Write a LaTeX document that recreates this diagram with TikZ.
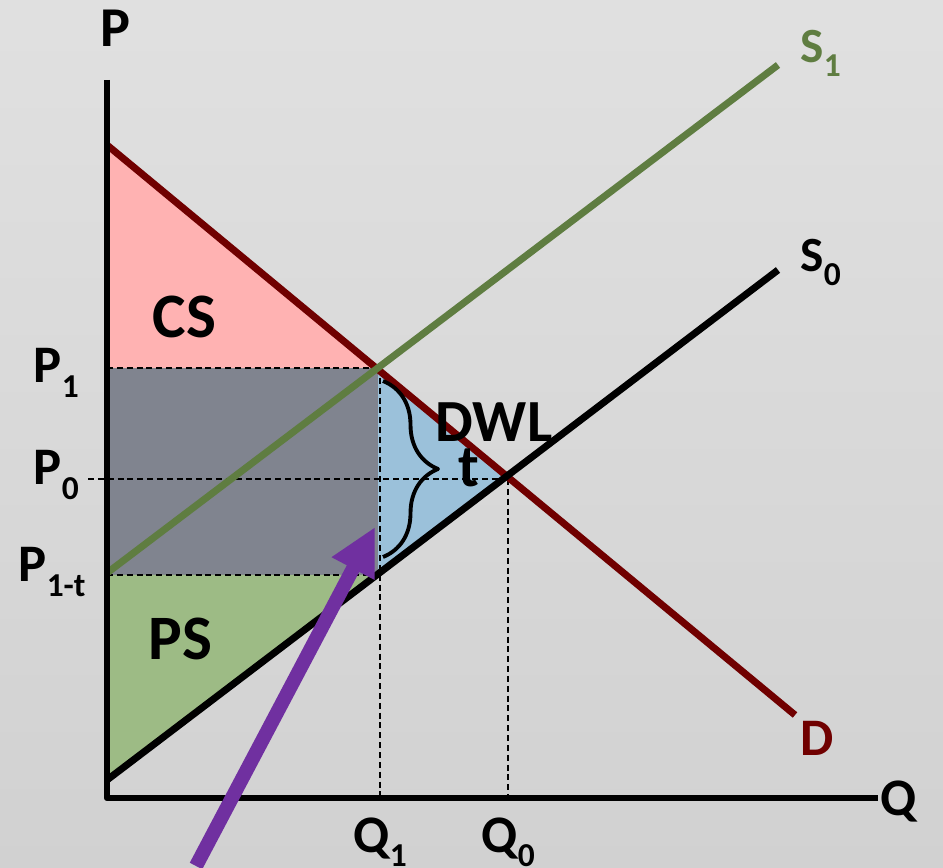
\documentclass[tikz,border=0pt]{standalone}
\usepackage{fontspec}
\setmainfont{Carlito}
\usetikzlibrary{arrows.meta,decorations.pathreplacing}
\definecolor{demandred}{RGB}{112,0,0}
\definecolor{supplygreen}{RGB}{95,125,65}
\definecolor{csfill}{RGB}{255,178,178}
\definecolor{taxfill}{RGB}{128,132,143}
\definecolor{psfill}{RGB}{157,187,133}
\definecolor{dwlfill}{RGB}{155,193,218}
\definecolor{arrowpurple}{RGB}{112,48,160}
\newcommand\lowsub[1]{\raisebox{-0.28em}{\fontsize{9.5}{10}\selectfont #1}}
\begin{document}
\begin{tikzpicture}[x=0.01cm,y=-0.01cm,line join=round,
    every node/.style={font=\bfseries\fontsize{15}{18}\selectfont,inner sep=0pt,anchor=base west},
    guide/.style={dash pattern=on 1.7pt off 1.1pt,line width=0.45pt},
    curve/.style={line width=2pt},
    bigtext/.style={font=\bfseries\fontsize{18}{21}\selectfont}]
  \useasboundingbox (0,0) rectangle (943,868);
  \shade[top color=black!12,middle color=black!8,bottom color=black!18] (0,0) rectangle (943,868);
  % points of the market
  \coordinate (O) at (107,798);
  \coordinate (Ptop) at (107,80);
  \coordinate (Qend) at (878,798);
  \coordinate (Dstart) at (107,145);
  \coordinate (Dend) at (795,715);
  \coordinate (Szstart) at (107,780);
  \coordinate (Szend) at (778,270);
  \coordinate (Sostart) at (107,573);
  \coordinate (Soend) at (778,65);
  \coordinate (Eone) at (378,368);
  \coordinate (Ezero) at (508,479);
  \coordinate (Pone) at (107,368);
  \coordinate (Pzero) at (88,479);
  \coordinate (Pt) at (107,575);
  \coordinate (Ft) at (378,575);
  % surplus areas
  \fill[csfill] (Dstart) -- (Pone) -- (Eone) -- cycle;
  \fill[taxfill] (Pone) rectangle (Ft);
  \fill[psfill] (Pt) -- (Ft) -- (Szstart) -- cycle;
  \fill[dwlfill] (Eone) -- (Ezero) -- (Ft) -- cycle;
  % guides
  \draw[guide] (Pone) -- (Eone);
  \draw[guide] (Pzero) -- (Ezero);
  \draw[guide] (Pt) -- (Ft);
  \draw[guide] (380,368) -- (380,798);
  \draw[guide] (Ezero) -- (508,798);
  % curves
  \draw[curve,demandred] (Dstart) -- (Dend);
  \draw[curve,black] (Szstart) -- (Szend);
  \draw[curve,supplygreen] (Sostart) -- (Soend);
  \draw[line width=1.8pt] (Ptop) -- (O) -- (Qend);
  % tax brace
  \draw[line width=1.1pt,decorate,decoration={brace,amplitude=0.55cm}] (383,381) -- (383,557);
  % pointer
  \coordinate (tail) at (196,866);
  \coordinate (tip) at (375,527);
  \draw[arrowpurple,line width=4pt,-{Triangle[length=0.47cm,width=0.45cm]}] (tail) -- (tip);
  % labels
  \node[font=\bfseries\fontsize{16}{19}\selectfont] (plabel) at (100,47) {P};
  \node (qlabel) at (880,815) {Q};
  \node[supplygreen,font=\bfseries\fontsize{14}{17}\selectfont] (sonelabel) at (800,63) {S\lowsub{1}};
  \node[font=\bfseries\fontsize{14}{17}\selectfont] (szerolabel) at (800,272) {S\lowsub{0}};
  \node[demandred] (dlabel) at (800,755) {D};
  \node[bigtext] (cslabel) at (152,338) {CS};
  \node[bigtext] (pslabel) at (148,660) {PS};
  \node[font=\bfseries\fontsize{17}{20}\selectfont] (dwllabel) at (435,442) {DWL};
  \node[font=\bfseries\fontsize{17}{20}\selectfont] (tlabel) at (458,487) {t};
  \node (ponelabel) at (33,383) {P\lowsub{1}};
  \node (pzerolabel) at (33,485) {P\lowsub{0}};
  \node (ptlabel) at (18,582) {P\lowsub{1-t}};
  \node (qonelabel) at (353,852) {Q\lowsub{1}};
  \node (qzerolabel) at (481,852) {Q\lowsub{0}};
\end{tikzpicture}
\end{document}
